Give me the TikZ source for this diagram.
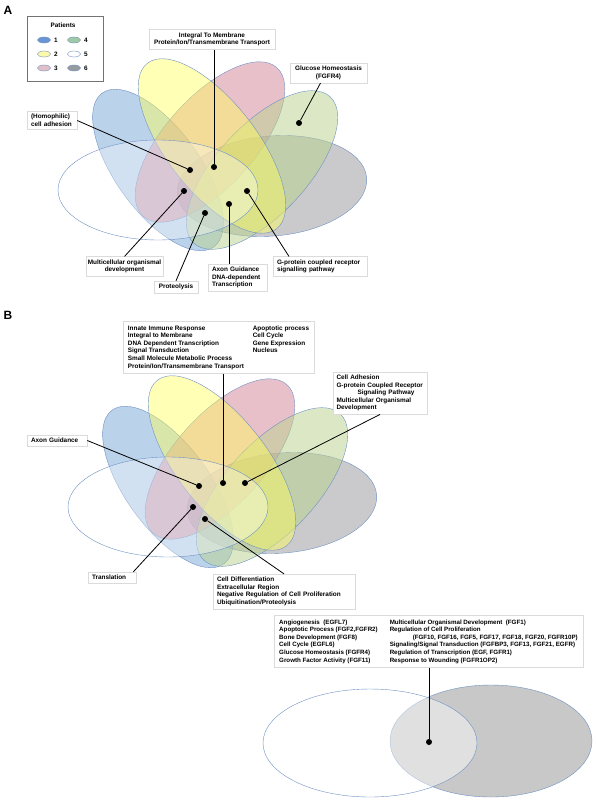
\documentclass[tikz,border=0pt]{standalone}
\usepackage{fontspec}
\setmainfont{Liberation Sans}

\definecolor{setblue}{RGB}{120,165,215}
\definecolor{setyellow}{RGB}{255,255,90}
\definecolor{setpink}{RGB}{210,130,150}
\definecolor{setgreen}{RGB}{185,210,140}
\definecolor{setgray}{RGB}{150,150,155}
\definecolor{twogray}{RGB}{200,200,200}
\definecolor{rim}{RGB}{110,145,195}
\definecolor{legblue}{RGB}{105,150,210}
\definecolor{leggreen}{RGB}{160,200,165}
\definecolor{legyellow}{RGB}{250,250,170}
\definecolor{legpink}{RGB}{225,190,200}
\definecolor{leggray}{RGB}{150,155,160}

\tikzset{
  setshape/.style={draw=rim, line width=0.4pt, fill opacity=0.5},
  panel/.style={font=\fontsize{12}{12}\selectfont\bfseries, inner sep=0pt},
  labelbox/.style={draw=black!14, fill=white, line width=0.5pt, inner xsep=4pt, inner ysep=3pt,
    font=\bfseries\fontsize{6.4}{7.6}\selectfont},
  leftbox/.style={labelbox, align=left},
  midbox/.style={labelbox, align=center},
  hit/.style={circle, fill=black, inner sep=0pt, minimum size=6pt},
  leader/.style={line width=0.8pt},
  legtext/.style={font=\bfseries\fontsize{6.4}{7.6}\selectfont, inner sep=0pt},
  sixsets/.pic={
    \draw [setshape, fill=setgray] (272,186) ellipse [x radius=95, y radius=50, rotate=5];
    \draw [setshape, fill=setblue] (158,170) ellipse [x radius=95, y radius=42, rotate=-54];
    \draw [setshape, fill=setpink] (210,142) ellipse [x radius=100, y radius=45, rotate=48];
    \draw [setshape, fill=setgreen] (262,170) ellipse [x radius=100, y radius=45, rotate=47];
    \draw [setshape, fill=setyellow, fill opacity=0.45] (212,146) ellipse [x radius=105, y radius=45, rotate=-52];
    \draw [setshape, fill=white, fill opacity=0.35] (158,190) ellipse [x radius=100, y radius=50];
  }
}

\begin{document}
\begin{tikzpicture}[x=1pt, y=-1pt]
\useasboundingbox (0,0) rectangle (595,800);

% panel A
\node (panA) [panel] at (8,10) {A};
\pic at (0,0) {sixsets};

\node (legend) [draw=black!55, line width=0.7pt, minimum width=76pt, minimum height=65pt] at (65,48.5) {};
\node (legtitle) [legtext] at (63,25) {Patients};
\foreach \px/\py/\col/\lab in {44/40/legblue/1, 74/40/leggreen/4, 44/54/legyellow/2,
                               74/54/white/5, 44/68/legpink/3, 74/68/leggray/6} {
  \draw [draw=rim, line width=0.4pt, fill=\col] (\px,\py) ellipse [x radius=6.5, y radius=3];
  \node (leg\lab) [legtext, anchor=west] at (\px+10,\py) {\lab};
}

\node (dA1) [hit] at (190,170) {};
\node (dA2) [hit] at (214,167) {};
\node (dA3) [hit] at (184,191) {};
\node (dA4) [hit] at (247,191) {};
\node (dA5) [hit] at (229,204) {};
\node (dA6) [hit] at (205,213) {};
\node (dA7) [hit] at (299,123) {};

\node (memb) [midbox, inner xsep=5pt] at (212,39.5) {Integral To Membrane\\Protein/Ion/Transmembrane Transport};
\node (gluc) [midbox, inner xsep=5pt] at (328.5,73) {Glucose Homeostasis\\(FGFR4)};
\node (homo) [leftbox, text width=42pt] at (52,120.5) {(Homophilic)\\cell adhesion};
\node (multi) [midbox, inner xsep=2pt] at (124.5,266.5) {Multicellular organismal\\development};
\node (prot) [midbox, inner xsep=5pt] at (176,287) {Proteolysis};
\node (axon) [leftbox, text width=51pt] at (237.5,277.5) {Axon Guidance\\DNA-dependent\\Transcription};
\node (gprot) [leftbox, text width=86pt] at (320,266.5) {G-protein coupled receptor\\signalling pathway};

\draw [leader] (memb.south -| dA2) -- (dA2);
\draw [leader] ([xshift=-8pt]gluc.south) -- (dA7);
\draw [leader] (homo.east) -- (dA1);
\draw [leader] (multi.north) -- (dA3);
\draw [leader] (prot.north) -- (dA6);
\draw [leader] (axon.north -| dA5) -- (dA5);
\draw [leader] ([xshift=-31pt]gprot.north) -- (dA4);

% panel B
\node (panB) [panel] at (8,315) {B};
\pic at (10,317) {sixsets};

\node (dB1) [hit] at (199,486) {};
\node (dB2) [hit] at (223,483) {};
\node (dB3) [hit] at (245,483) {};
\node (dB4) [hit] at (193,507) {};
\node (dB5) [hit] at (205,519) {};

\node (bigB) [labelbox, inner xsep=5pt] at (218.5,347.5) {\begin{tabular}{@{}l@{\hspace{9pt}}l@{}}
Innate Immune Response & Apoptotic process\\
Integral to Membrane & Cell Cycle\\
DNA Dependent Transcription & Gene Expression\\
Signal Transduction & Nucleus\\
Small Molecule Metabolic Process & \\
Protein/Ion/Transmembrane Transport &
\end{tabular}};
\node (cellB) [leftbox, inner xsep=3.5pt, text width=87pt] at (380,393) {Cell Adhesion\\G-protein Coupled Receptor\\\hspace*{21pt}Signaling Pathway\\Multicellular Organismal\\Development};
\node (axonB) [leftbox, text width=52pt] at (57,440.5) {Axon Guidance};
\node (transB) [leftbox, text width=40pt] at (112,577.5) {Translation};
\node (diffB) [leftbox, text width=134pt] at (284,591.5) {Cell Differentiation\\Extracellular Region\\Negative Regulation of Cell Proliferation\\Ubiquitination/Proteolysis};

\draw [leader] (bigB.south -| dB2) -- (dB2);
\draw [leader] (cellB.south) -- (dB3);
\draw [leader] (axonB.east) -- (dB1);
\draw [leader] ([xshift=-3pt]transB.north east) -- (dB4);
\draw [leader] (diffB.north) -- (dB5);

% two sets
\draw [setshape, fill=twogray, fill opacity=1] (491,741) ellipse [x radius=101, y radius=56];
\draw [setshape, fill=white, fill opacity=0.45] (370,743) ellipse [x radius=107, y radius=54];
\node (dC) [hit] at (429,742) {};

\node (botbox) [labelbox, inner xsep=5pt, font=\bfseries\fontsize{6.2}{7.6}\selectfont] at (428.5,641.5) {\begin{tabular}{@{}l@{\hspace{12pt}}l@{}}
Angiogenesis~ (EGFL7) & Multicellular Organismal Development~ (FGF1)\\
Apoptotic Process (FGF2,FGFR2) & Regulation of Cell Proliferation\\
Bone Development (FGF8) & \hspace*{23pt}(FGF10, FGF16, FGF5, FGF17, FGF18, FGF20, FGFR10P)\\
Cell Cycle (EGFL6) & Signaling/Signal Transduction (FGFBP3, FGF13, FGF21, EGFR)\\
Glucose Homeostasis (FGFR4) & Regulation of Transcription (EGF, FGFR1)\\
Growth Factor Activity (FGF11) & Response to Wounding (FGFR1OP2)
\end{tabular}};

\draw [leader] (botbox.south -| dC) -- (dC);
\end{tikzpicture}
\end{document}
